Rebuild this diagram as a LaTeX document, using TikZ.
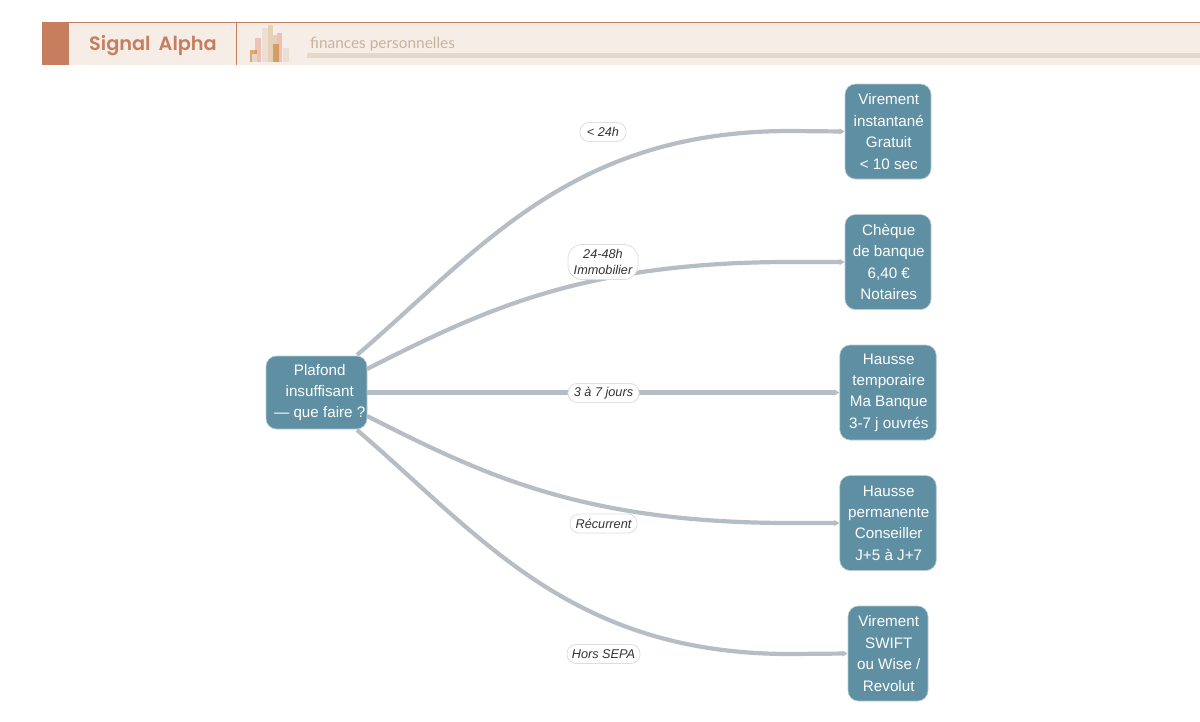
\documentclass[tikz,border=0pt]{standalone}
\usepackage{fontspec}
\setmainfont{Liberation Sans}
\newfontfamily\popp{Poppins}[FontFace={sb}{n}{Font=Poppins SemiBold}]
\newfontfamily\latof{Lato}
\usetikzlibrary{arrows.meta}
\definecolor{hdrbg}{HTML}{F7EDE7}
\definecolor{hdracc}{HTML}{C67E5E}
\definecolor{hdrline}{HTML}{E6D8C9}
\definecolor{subtxt}{HTML}{C8B49C}
\definecolor{iconpink}{HTML}{E8A8A0}
\definecolor{icontan}{HTML}{D9C2A0}
\definecolor{iconorange}{HTML}{CF8436}
\definecolor{nodefill}{HTML}{5F8FA3}
\definecolor{nodeedge}{HTML}{B9CBD4}
\definecolor{edgec}{HTML}{B7BDC4}
\definecolor{lblb}{HTML}{DEDEDE}
\definecolor{lbltxt}{HTML}{333333}
\newcommand\Ln[1]{\raisebox{-.7pt}{\hspace{1.5pt}#1}}
\newcommand\Lm[1]{\raisebox{-1.7pt}{\hspace{6.5pt}#1}}
\tikzset{
  box/.style={draw=nodeedge,line width=0.6pt,fill=nodefill,rounded corners=10.5pt,text=white,align=center,font=\fontsize{15.2}{21.4}\selectfont,inner sep=0pt},
  lbl/.style={draw=lblb,line width=0.8pt,fill=white,rounded corners=9pt,align=center,text=lbltxt,font=\fontsize{12.7}{15.5}\selectfont\itshape,inner sep=0pt},
  conn/.style={draw=edgec,line width=4.2pt,-{Triangle[length=5pt,width=5.6pt]}},
  bar/.style={draw=none,fill opacity=.65}
}
\begin{document}
\begin{tikzpicture}[x=1pt,y=-1pt]
\useasboundingbox[fill=white] (0,0) rectangle (1200,721);
% header
\fill[hdrbg] (42,22) rectangle (1200,65);
\draw[hdracc,line width=0.8pt] (42,22) -- (1200,22);
\fill[hdracc] (42,22) rectangle (69,65);
\draw[hdracc,line width=0.8pt] (236.5,22) -- (236.5,65);
\node[anchor=base west,inner sep=0pt,text=hdracc,font=\fontsize{19.3}{24}\popp\fontseries{sb}\selectfont] (title) at (89,50) {Signal\hspace{3.5pt} Alpha};
\fill[hdrline] (307,53) rectangle (1200,58);
\node[anchor=base west,inner sep=0pt,text=subtxt,font=\fontsize{15.4}{18}\latof\selectfont] (sub) at (310,48) {finances personnelles};
% icon
\fill[bar,fill=iconpink] (254.5,38) rectangle (261,62);
\fill[bar,fill=iconorange] (250,50) rectangle (257,62);
\fill[hdrline] (252,54) rectangle (257,62);
\fill[bar,fill=hdrline] (262,28) rectangle (268,62);
\fill[bar,fill=icontan] (268,25) rectangle (273,62);
\fill[bar,fill=iconpink] (277,33) rectangle (282,62);
\fill[bar,fill=icontan] (273,35) rectangle (277,62);
\fill[bar,fill=iconorange] (273,44) rectangle (279,62);
\fill[bar,fill=hdrline] (283,48) rectangle (289,62);
% nodes
\node[box,minimum width=101pt,minimum height=73pt] (src) at (316.5,392.5) {\Lm{Plafond}\\\Lm{insuffisant}\\\Lm{— que faire ?}};
\node[box,minimum width=86pt,minimum height=95pt] (n1) at (888,131.5) {\Ln{Virement}\\\Ln{instantané}\\\Ln{Gratuit}\\\Ln{< 10 sec}};
\node[box,minimum width=86pt,minimum height=95pt] (n2) at (888,262) {\Ln{Chèque}\\\Ln{de banque}\\\Ln{6,40 €}\\\Ln{Notaires}};
\node[box,minimum width=96.5pt,minimum height=95pt] (n3) at (888,392.5) {\Ln{Hausse}\\\Ln{temporaire}\\\Ln{Ma Banque}\\\Ln{3-7 j ouvrés}};
\node[box,minimum width=96.5pt,minimum height=95pt] (n4) at (888,523) {\Ln{Hausse}\\\Ln{permanente}\\\Ln{Conseiller}\\\Ln{J+5 à J+7}};
\node[box,minimum width=80pt,minimum height=95pt] (n5) at (888,653.5) {\Ln{Virement}\\\Ln{SWIFT}\\\Ln{ou Wise /}\\\Ln{Revolut}};
% connectors
\coordinate (s1) at (357,355);
\coordinate (s2) at (367,369);
\coordinate (s4) at (367,416);
\coordinate (s5) at (357,430);
\draw[conn] (s1) .. controls (480,250) and (570,131) .. (790,131) -- (n1.west);
\draw[conn] (s2) .. controls (480,312) and (580,262) .. (790,262) -- (n2.west);
\draw[conn] (src.east) -- (n3.west);
\draw[conn] (s4) .. controls (480,473) and (580,523) .. (790,523) -- (n4.west);
\draw[conn] (s5) .. controls (480,535) and (570,654) .. (790,654) -- (n5.west);
% labels
\node[lbl,minimum width=46pt,minimum height=19pt] (l1) at (603,132) {< 24h};
\node[lbl,minimum width=70pt,minimum height=35pt,rounded corners=14pt] (l2) at (603,262) {24-48h\\Immobilier};
\node[lbl,minimum width=71pt,minimum height=19pt] (l3) at (603.5,393) {3 à 7 jours};
\node[lbl,minimum width=67pt,minimum height=19pt] (l4) at (603.5,523.5) {Récurrent};
\node[lbl,minimum width=73pt,minimum height=19pt] (l5) at (603.5,654) {Hors SEPA};
\end{tikzpicture}
\end{document}
